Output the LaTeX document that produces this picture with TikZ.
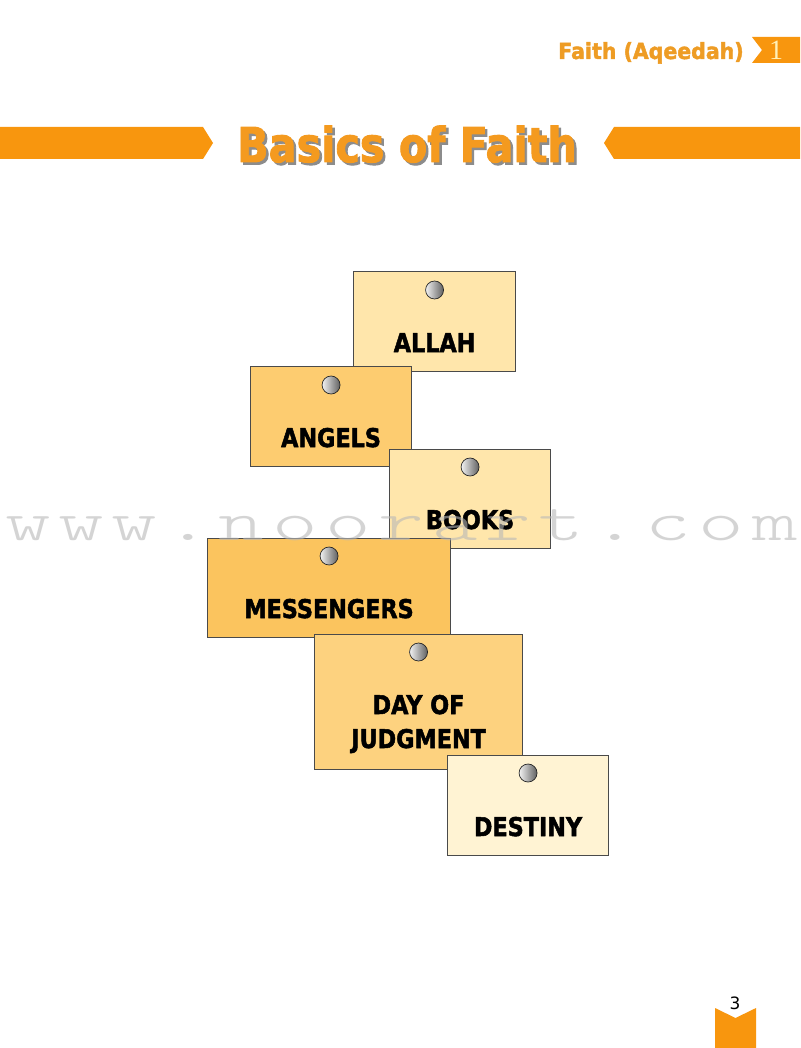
\documentclass[tikz,border=0pt]{standalone}
\usepackage{fontspec}
\newfontfamily\djv{DejaVu Sans}
\newfontfamily\djvfb[FakeBold=2]{DejaVu Sans}
\newfontfamily\numfont{Liberation Serif}
\newfontfamily\wmfont{Latin Modern Mono Light}
\definecolor{banner}{HTML}{F8960E}
\definecolor{titleor}{HTML}{F49A1F}
\definecolor{heador}{HTML}{EE9C24}
\definecolor{oneclr}{HTML}{FFF0B8}
\definecolor{cardline}{HTML}{4A4A4A}
\definecolor{cA}{HTML}{FFE6AB}
\definecolor{cB}{HTML}{FDCC70}
\definecolor{cC}{HTML}{FFE6AB}
\definecolor{cD}{HTML}{FBC45E}
\definecolor{cE}{HTML}{FDD27F}
\definecolor{cF}{HTML}{FFF3D3}
\definecolor{wmclr}{HTML}{B8B8B8}
\definecolor{shadowclr}{HTML}{8C8C8C}
\begin{document}
\begin{tikzpicture}[x=1pt,y=-1pt,
  cardbox/.style={draw=cardline,line width=1.1pt,rectangle,inner sep=0pt,anchor=north west},
  tack/.style={circle,inner sep=0pt,minimum size=18pt,draw=black!85,line width=0.7pt,left color=gray!10,right color=gray!75!black},
  cardtxt/.style={font=\djvfb\bfseries\fontsize{23}{28}\selectfont,anchor=base,inner sep=0pt,text=black,xscale=0.97,yscale=1.12},
  wmchar/.style={font=\wmfont\fontsize{56}{56}\selectfont,anchor=base,inner sep=0pt,xscale=1.55,text=wmclr,text opacity=0.6},
  bar/.style={fill=banner,draw=none}]
\useasboundingbox (0,0) rectangle (800,1048);
\fill[white] (0,0) rectangle (800,1048);

% header
\node[font=\djvfb\bfseries\fontsize{20.5}{24}\selectfont,text=heador,anchor=base,inner sep=0pt,yscale=1.08] (head) at (651,59) {Faith (Aqeedah)};
\fill[bar] (752,37) -- (800,37) -- (800,63) -- (752,63) -- (762,50) -- cycle;
\node[font=\numfont\fontsize{28}{28}\selectfont,text=oneclr,anchor=base,inner sep=0pt] (chapnum) at (776,60) {1};

% title bars
\fill[bar] (0,127) -- (203,127) -- (213,143) -- (203,159) -- (0,159) -- cycle;
\fill[bar] (800,127) -- (614,127) -- (604,143) -- (614,159) -- (800,159) -- cycle;
\node[font=\djvfb\bfseries\fontsize{47}{50}\selectfont,text=shadowclr,anchor=base,inner sep=0pt,xscale=0.88,yscale=1.02] (titleshadow) at (409.5,164.5) {Basics of Faith};
\node[font=\djvfb\bfseries\fontsize{47}{50}\selectfont,text=titleor,anchor=base,inner sep=0pt,xscale=0.88,yscale=1.02] (title) at (407,162) {Basics of Faith};

% cards
\node[cardbox,fill=cA,minimum width=162pt,minimum height=100pt] (allah) at (353,271) {};
\node[tack] (allahtack) at ([yshift=-19pt]allah.north) {};
\node[cardtxt] (allahtxt) at ([yshift=-81pt]allah.north) {ALLAH};

\node[cardbox,fill=cB,minimum width=161pt,minimum height=100pt] (angels) at (250,366) {};
\node[tack] (angelstack) at ([yshift=-19pt]angels.north) {};
\node[cardtxt] (angelstxt) at ([yshift=-81pt]angels.north) {ANGELS};

\node[cardbox,fill=cC,minimum width=161pt,minimum height=99pt] (books) at (389,449) {};
\node[tack] (bookstack) at ([yshift=-18pt]books.north) {};
\node[cardtxt] (bookstxt) at ([yshift=-80pt]books.north) {BOOKS};

\node[cardbox,fill=cD,minimum width=243pt,minimum height=99pt] (messengers) at (207,538) {};
\node[tack] (messengerstack) at ([yshift=-18pt]messengers.north) {};
\node[cardtxt] (messengerstxt) at ([yshift=-80pt]messengers.north) {MESSENGERS};

\node[cardbox,fill=cE,minimum width=208pt,minimum height=135pt] (day) at (314,634) {};
\node[tack] (daytack) at ([yshift=-18pt]day.north) {};
\node[cardtxt] (daytxta) at ([yshift=-80pt]day.north) {DAY OF};
\node[cardtxt] (daytxtb) at ([yshift=-114pt]day.north) {JUDGMENT};

\node[cardbox,fill=cF,minimum width=161pt,minimum height=100pt] (destiny) at (447,755) {};
\node[tack] (destinytack) at ([yshift=-18pt]destiny.north) {};
\node[cardtxt] (destinytxt) at ([yshift=-81pt]destiny.north) {DESTINY};

% watermark
\foreach \c [count=\i] in {w,w,w,.,n,o,o,r,a,r,t,.,c,o,m}
  \node[wmchar] (wm\i) at ({28+53.36*(\i-1)},540) {\c};

% page number
\fill[bar] (715,1008) -- (735.5,1018) -- (756,1008) -- (756,1048) -- (715,1048) -- cycle;
\node[font=\djv\fontsize{17}{17}\selectfont,anchor=base,inner sep=0pt] (pagenum) at (735,1009) {3};
\end{tikzpicture}
\end{document}
